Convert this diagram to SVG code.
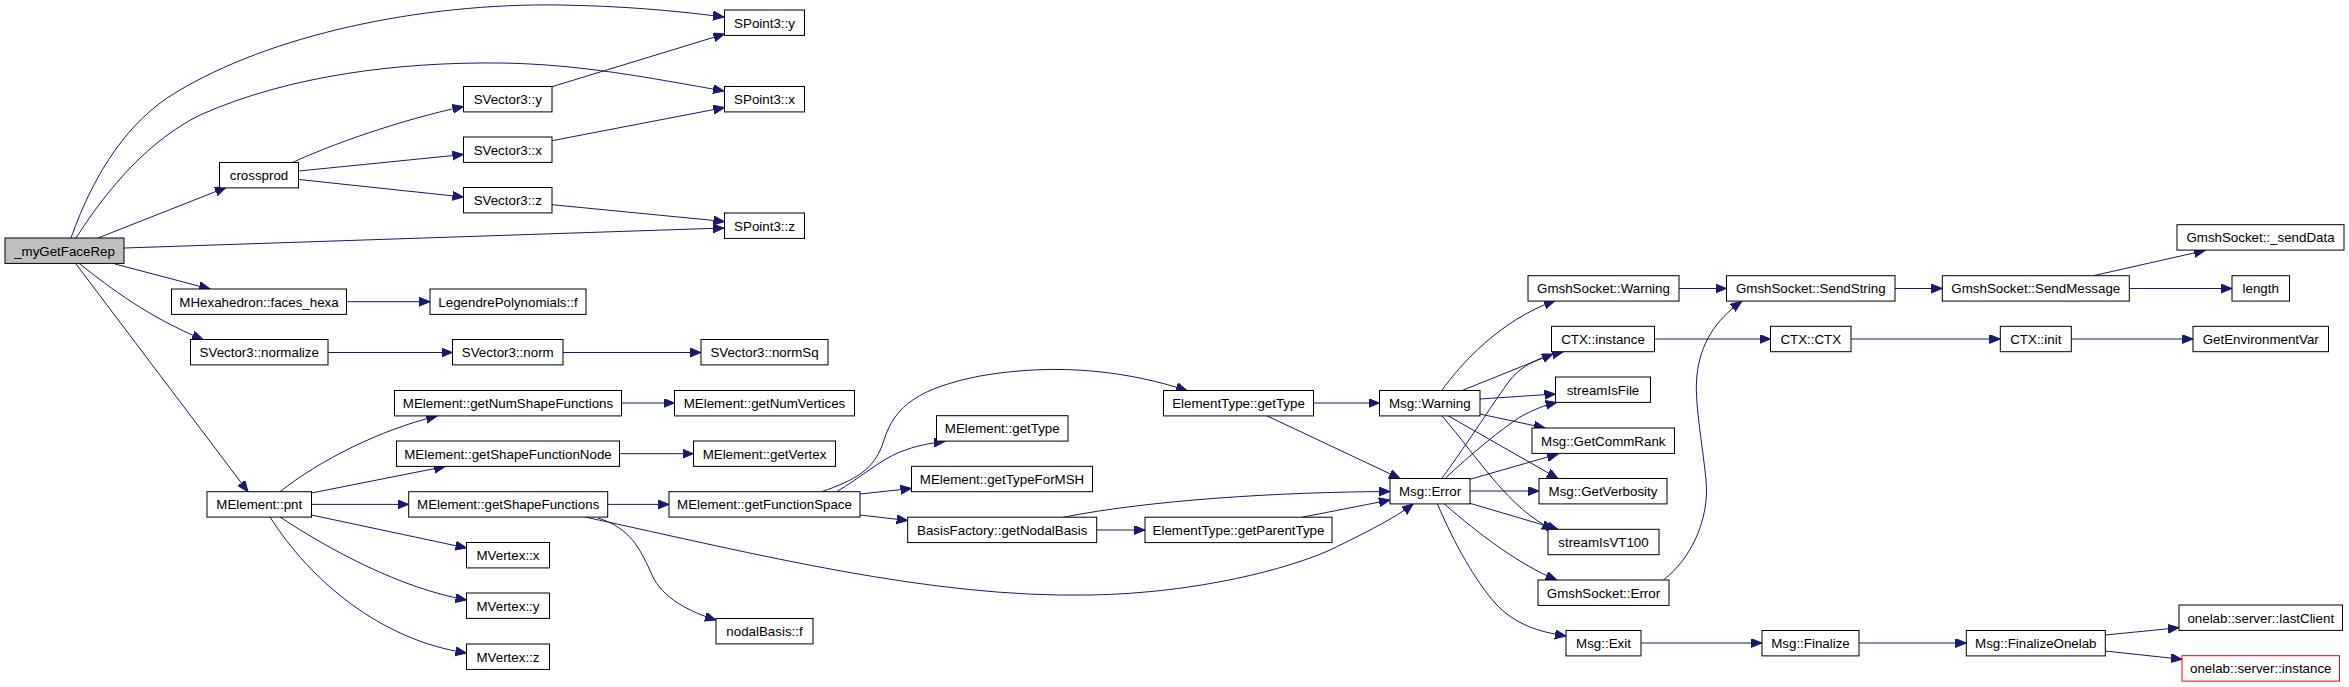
<svg xmlns="http://www.w3.org/2000/svg" width="2349" height="687" viewBox="0 0 2349 687">
<style>
.n rect{fill:#ffffff;stroke:#000000;stroke-width:1}
.n text{font-family:"Liberation Sans",Arial,Helvetica,sans-serif;font-size:13.33px;fill:#000000;text-anchor:middle}
#edges path{fill:none;stroke:#191970;stroke-width:1;marker-end:url(#arr)}
</style>
<defs>
<marker id="arr" markerWidth="13" markerHeight="10" refX="11" refY="4.5" orient="auto" markerUnits="userSpaceOnUse">
<path d="M0,0 L11,4.5 L0,9 z" fill="#191970" stroke="#191970" stroke-width="1"/>
</marker>
</defs>
<rect width="2349" height="687" fill="#ffffff"/>
<g id="edges">
<path d="M71,238 C95,170 130,120 175,93 C270,35 420,3 560,5 C620,6 670,10 724,17"/>
<path d="M76,238 C110,185 150,140 200,115 C290,75 400,62 500,63 C580,64 650,78 724,91"/>
<path d="M98,238 L226,187.5"/>
<path d="M124,248 L724,228"/>
<path d="M292,162.7 C330,145 400,120 463.5,106.5"/>
<path d="M299,171 L463.5,154.5"/>
<path d="M299,179.5 L463.5,197"/>
<path d="M552,86.7 L724.5,34"/>
<path d="M552,140.7 L724.5,107.5"/>
<path d="M552,204.7 L724.5,221.5"/>
<path d="M115,264 L210,289"/>
<path d="M80,264 C110,288 150,318 203,339.5"/>
<path d="M76,264 L248,491.7"/>
<path d="M346.5,301.7 L430,301.7"/>
<path d="M328,352.5 L452.5,352.5"/>
<path d="M563,352.5 L701,352.5"/>
<path d="M280,491.7 C320,460 380,430 437,416"/>
<path d="M311.5,493 L445,466.5"/>
<path d="M311.5,504.4 L408.7,504.4"/>
<path d="M311.5,515 L466.5,548"/>
<path d="M280,517 C330,550 400,588 466.5,600"/>
<path d="M270,517 C310,580 380,640 466.5,653"/>
<path d="M621.5,403 L674.5,403"/>
<path d="M619.5,453.7 L693.5,453.7"/>
<path d="M607.7,504.4 L669,504.4"/>
<path d="M598,518 C630,528 640,548 652,575 C662,598 690,612 716,620"/>
<path d="M585,517 C760,555 930,598 1090,595 C1200,593 1290,568 1330,550 C1365,533 1395,518 1413,504"/>
<path d="M821.7,491.7 C855,480 875,470 884,440 C895,405 920,388 980,376 C1060,362 1130,372 1187,390.5"/>
<path d="M836.7,491.7 C860,478 880,460 900,452 C915,446 930,443 945,441.5"/>
<path d="M860,494 L911.5,488.5"/>
<path d="M860,515 L907.7,520.5"/>
<path d="M1096.7,530 L1145,530"/>
<path d="M1063,517.3 C1150,500 1280,492 1390,491.5"/>
<path d="M1301.7,517.3 L1390,500"/>
<path d="M1313.5,403 L1379.5,403"/>
<path d="M1266.7,415.7 L1400,478.5"/>
<path d="M1441.7,390.5 C1460,365 1500,320 1555,300.7"/>
<path d="M1462,390.5 L1553,354"/>
<path d="M1480,399 L1555.5,394"/>
<path d="M1480,414 L1545,428"/>
<path d="M1448,415.7 L1558,478.5"/>
<path d="M1441.7,415.7 C1480,460 1510,510 1553,529.3"/>
<path d="M1441.7,478.5 C1470,440 1495,400 1510,380 C1525,362 1545,356 1563,352"/>
<path d="M1445,478.5 C1470,455 1500,430 1520,417 C1535,409 1545,405 1556.7,402.5"/>
<path d="M1470,479.3 L1558,454"/>
<path d="M1470,491 L1539,491"/>
<path d="M1470,503.3 L1558,529.3"/>
<path d="M1444,503.7 C1480,535 1520,565 1556.7,580"/>
<path d="M1437.3,503.7 C1455,545 1475,580 1495,603 C1515,625 1540,632 1566,636"/>
<path d="M1679,288.5 L1726.5,288.5"/>
<path d="M1663.3,580 C1690,560 1710,520 1706,480 C1702,440 1694,400 1697,375 C1700,345 1715,320 1741.7,301.5"/>
<path d="M1654.5,339 L1770.5,339"/>
<path d="M1851,339 L2000.3,339"/>
<path d="M2071.3,339 L2193,339"/>
<path d="M1895,288.5 L1942.3,288.5"/>
<path d="M2093.3,275.7 L2205,250.5"/>
<path d="M2129.3,288.5 L2232,288.5"/>
<path d="M1641,643 L1762,643"/>
<path d="M1859,643 L1966.3,643"/>
<path d="M2105.3,635 L2179,627.7"/>
<path d="M2105.3,651 L2182,659.3"/>
</g>
<g id="n_myGetFaceRep" class="n"><rect x="5" y="238" width="119" height="25.4" style="fill:#bfbfbf"/><text x="64.5" y="255.5">_myGetFaceRep</text></g>
<g id="n_crossprod" class="n"><rect x="219.5" y="162.5" width="79" height="25.4"/><text x="259" y="180">crossprod</text></g>
<g id="n_SVector3_y" class="n"><rect x="463.5" y="86.5" width="88.5" height="25.4"/><text x="507.75" y="104">SVector3::y</text></g>
<g id="n_SVector3_x" class="n"><rect x="463.5" y="137" width="88.5" height="25.4"/><text x="507.75" y="154.5">SVector3::x</text></g>
<g id="n_SVector3_z" class="n"><rect x="463.5" y="187.5" width="88.5" height="25.4"/><text x="507.75" y="205">SVector3::z</text></g>
<g id="n_SPoint3_y" class="n"><rect x="724.5" y="10" width="80" height="25.4"/><text x="764.5" y="27.5">SPoint3::y</text></g>
<g id="n_SPoint3_x" class="n"><rect x="724.5" y="86.5" width="80" height="25.4"/><text x="764.5" y="104">SPoint3::x</text></g>
<g id="n_SPoint3_z" class="n"><rect x="724.5" y="213" width="80" height="25.4"/><text x="764.5" y="230.5">SPoint3::z</text></g>
<g id="n_faces_hexa" class="n"><rect x="171.5" y="289" width="175" height="25.4"/><text x="259" y="306.5">MHexahedron::faces_hexa</text></g>
<g id="n_Legendre_f" class="n"><rect x="430" y="289" width="156" height="25.4"/><text x="508" y="306.5">LegendrePolynomials::f</text></g>
<g id="n_normalize" class="n"><rect x="190.5" y="339.5" width="137.5" height="25.4"/><text x="259.25" y="357">SVector3::normalize</text></g>
<g id="n_norm" class="n"><rect x="452.5" y="339.5" width="110.5" height="25.4"/><text x="507.75" y="357">SVector3::norm</text></g>
<g id="n_normSq" class="n"><rect x="701" y="339.5" width="127" height="25.4"/><text x="764.5" y="357">SVector3::normSq</text></g>
<g id="n_getNumShapeFunctions" class="n"><rect x="394.5" y="390.5" width="227" height="25.4"/><text x="508" y="408">MElement::getNumShapeFunctions</text></g>
<g id="n_getNumVertices" class="n"><rect x="674.5" y="390.5" width="180" height="25.4"/><text x="764.5" y="408">MElement::getNumVertices</text></g>
<g id="n_getShapeFunctionNode" class="n"><rect x="396.5" y="441" width="223" height="25.4"/><text x="508" y="458.5">MElement::getShapeFunctionNode</text></g>
<g id="n_getVertex" class="n"><rect x="693.5" y="441" width="142" height="25.4"/><text x="764.5" y="458.5">MElement::getVertex</text></g>
<g id="n_pnt" class="n"><rect x="207" y="491.7" width="104.5" height="25.4"/><text x="259.25" y="509.2">MElement::pnt</text></g>
<g id="n_getShapeFunctions" class="n"><rect x="408.7" y="491.7" width="199" height="25.4"/><text x="508.2" y="509.2">MElement::getShapeFunctions</text></g>
<g id="n_getFunctionSpace" class="n"><rect x="669" y="491.7" width="191" height="25.4"/><text x="764.5" y="509.2">MElement::getFunctionSpace</text></g>
<g id="n_MVertex_x" class="n"><rect x="466.5" y="542.5" width="83" height="25.4"/><text x="508" y="560">MVertex::x</text></g>
<g id="n_MVertex_y" class="n"><rect x="466.5" y="593" width="83" height="25.4"/><text x="508" y="610.5">MVertex::y</text></g>
<g id="n_MVertex_z" class="n"><rect x="466.5" y="644" width="83" height="25.4"/><text x="508" y="661.5">MVertex::z</text></g>
<g id="n_nodalBasis_f" class="n"><rect x="716" y="618.5" width="97" height="25.4"/><text x="764.5" y="636">nodalBasis::f</text></g>
<g id="n_MElement_getType" class="n"><rect x="936.5" y="415.7" width="131.5" height="25.4"/><text x="1002.25" y="433.2">MElement::getType</text></g>
<g id="n_getTypeForMSH" class="n"><rect x="911.5" y="466.3" width="181" height="25.4"/><text x="1002" y="483.8">MElement::getTypeForMSH</text></g>
<g id="n_getNodalBasis" class="n"><rect x="907.7" y="517.2" width="189" height="25.4"/><text x="1002.2" y="534.7">BasisFactory::getNodalBasis</text></g>
<g id="n_ElementType_getType" class="n"><rect x="1163.5" y="390.5" width="150" height="25.4"/><text x="1238.5" y="408">ElementType::getType</text></g>
<g id="n_getParentType" class="n"><rect x="1145" y="517.2" width="187" height="25.4"/><text x="1238.5" y="534.7">ElementType::getParentType</text></g>
<g id="n_Msg_Warning" class="n"><rect x="1379.5" y="390.5" width="100.5" height="25.4"/><text x="1429.75" y="408">Msg::Warning</text></g>
<g id="n_Msg_Error" class="n"><rect x="1390" y="478.5" width="80" height="25.4"/><text x="1430" y="496">Msg::Error</text></g>
<g id="n_GmshSocket_Warning" class="n"><rect x="1528" y="275.7" width="151" height="25.4"/><text x="1603.5" y="293.2">GmshSocket::Warning</text></g>
<g id="n_CTX_instance" class="n"><rect x="1551.5" y="326.3" width="103" height="25.4"/><text x="1603" y="343.8">CTX::instance</text></g>
<g id="n_streamIsFile" class="n"><rect x="1555.5" y="377" width="95" height="25.4"/><text x="1603" y="394.5">streamIsFile</text></g>
<g id="n_GetCommRank" class="n"><rect x="1532" y="428" width="142.5" height="25.4"/><text x="1603.25" y="445.5">Msg::GetCommRank</text></g>
<g id="n_GetVerbosity" class="n"><rect x="1539" y="478.5" width="128" height="25.4"/><text x="1603" y="496">Msg::GetVerbosity</text></g>
<g id="n_streamIsVT100" class="n"><rect x="1548" y="529.3" width="111" height="25.4"/><text x="1603.5" y="546.8">streamIsVT100</text></g>
<g id="n_GmshSocket_Error" class="n"><rect x="1538" y="580" width="131" height="25.4"/><text x="1603.5" y="597.5">GmshSocket::Error</text></g>
<g id="n_Msg_Exit" class="n"><rect x="1566" y="630.5" width="75" height="25.4"/><text x="1603.5" y="648">Msg::Exit</text></g>
<g id="n_SendString" class="n"><rect x="1726.5" y="275.7" width="168.5" height="25.4"/><text x="1810.75" y="293.2">GmshSocket::SendString</text></g>
<g id="n_CTX_CTX" class="n"><rect x="1770.5" y="326.3" width="80.5" height="25.4"/><text x="1810.75" y="343.8">CTX::CTX</text></g>
<g id="n_Msg_Finalize" class="n"><rect x="1762" y="630.5" width="97" height="25.4"/><text x="1810.5" y="648">Msg::Finalize</text></g>
<g id="n_SendMessage" class="n"><rect x="1942.3" y="275.7" width="187" height="25.4"/><text x="2035.8" y="293.2">GmshSocket::SendMessage</text></g>
<g id="n_CTX_init" class="n"><rect x="2000.3" y="326.3" width="71" height="25.4"/><text x="2035.8" y="343.8">CTX::init</text></g>
<g id="n_FinalizeOnelab" class="n"><rect x="1966.3" y="630.5" width="139" height="25.4"/><text x="2035.8" y="648">Msg::FinalizeOnelab</text></g>
<g id="n_sendData" class="n"><rect x="2177" y="224.7" width="167" height="25.4"/><text x="2260.5" y="242.2">GmshSocket::_sendData</text></g>
<g id="n_length" class="n"><rect x="2232" y="275.7" width="57.5" height="25.4"/><text x="2260.75" y="293.2">length</text></g>
<g id="n_GetEnvironmentVar" class="n"><rect x="2193" y="326.3" width="135.5" height="25.4"/><text x="2260.75" y="343.8">GetEnvironmentVar</text></g>
<g id="n_lastClient" class="n"><rect x="2179" y="605" width="163.5" height="25.4"/><text x="2260.75" y="622.5">onelab::server::lastClient</text></g>
<g id="n_server_instance" class="n"><rect x="2182" y="655.7" width="157.5" height="25.4" style="stroke:#ff0000"/><text x="2260.75" y="673.2">onelab::server::instance</text></g>
</svg>
